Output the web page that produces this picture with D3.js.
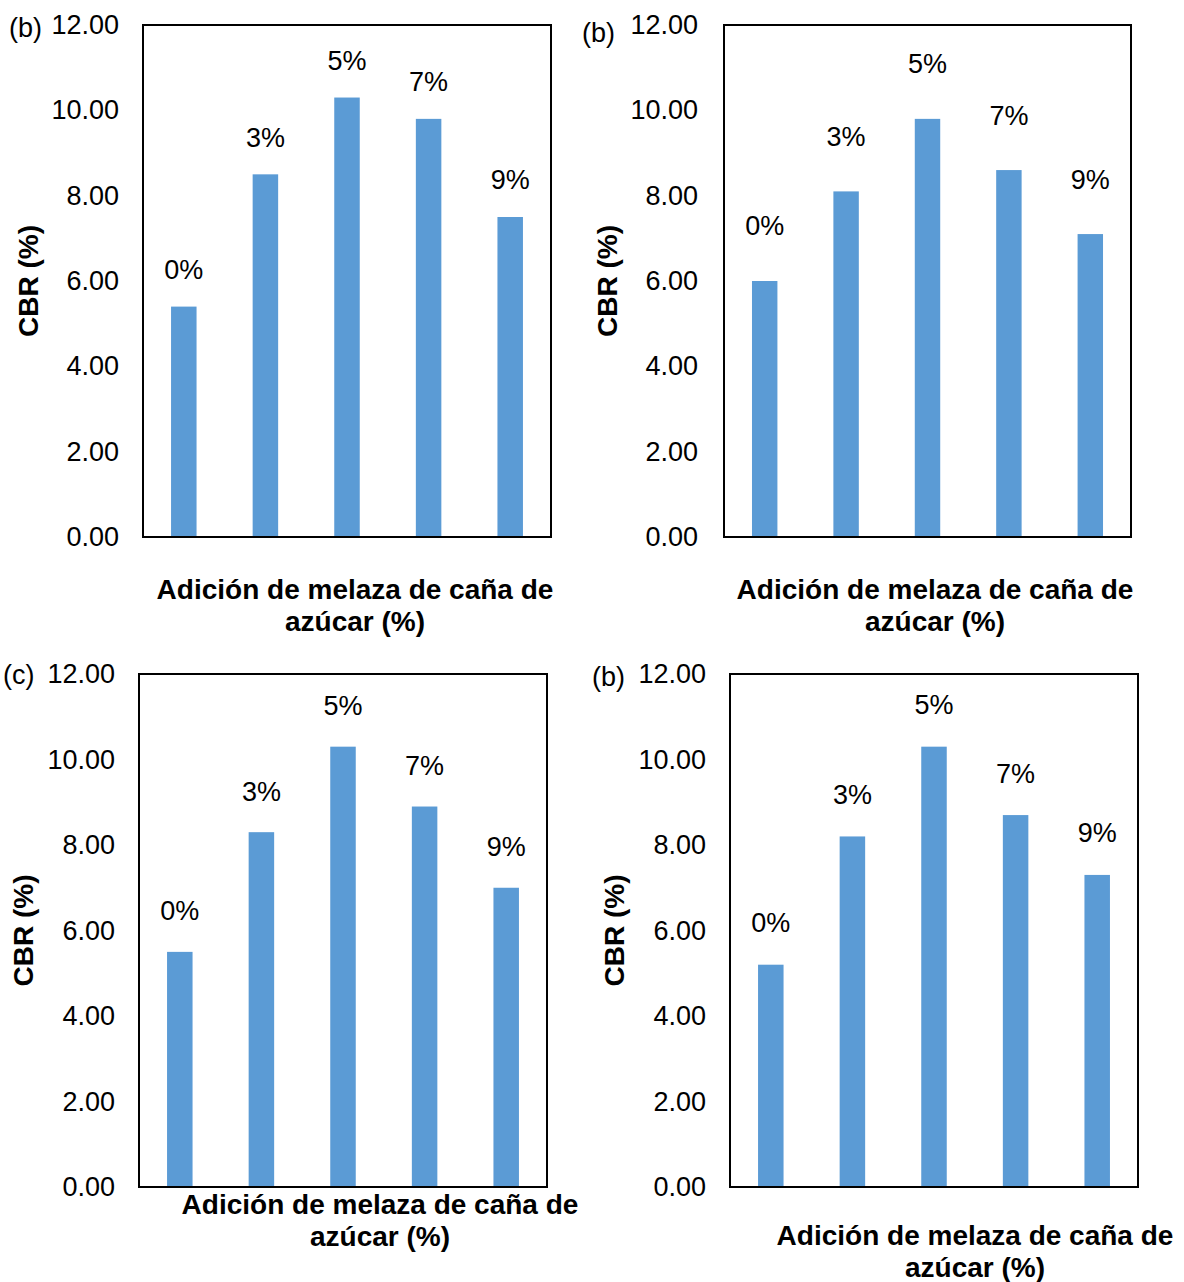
<!DOCTYPE html>
<html>
<head>
<meta charset="utf-8">
<script src="https://cdn.jsdelivr.net/npm/d3@7"></script>
<style>
  html, body { margin: 0; padding: 0; background: #fff; }
  svg { display: block; }
  text { font-family: "Liberation Sans", Arial, Helvetica, sans-serif; fill: #000; }
</style>
</head>
<body>
<svg id="chart" width="1184" height="1282"></svg>
<script>
// Molasses dosage categories shared by all four panels
const categories = ["0%", "3%", "5%", "7%", "9%"];

// CBR (%) for each panel
const cbrPanel1 = [5.4, 8.5, 10.3, 9.8, 7.5];
const cbrPanel2 = [6.0, 8.1, 9.8, 8.6, 7.1];
const cbrPanel3 = [5.5, 8.3, 10.3, 8.9, 7.0];
const cbrPanel4 = [5.2, 8.2, 10.3, 8.7, 7.3];

// Panel tags
const panelTags = ["(b)", "(b)", "(c)", "(b)"];

// Y axis ticks
const yTicks = [0, 2, 4, 6, 8, 10, 12];

const yTitle = "CBR (%)";
const xTitleLines = ["Adición de melaza de caña de", "azúcar (%)"];

const series = [cbrPanel1, cbrPanel2, cbrPanel3, cbrPanel4];

// Layout of each panel on the page
const layout = [
  { left: 143, top: 25,  w: 408, h: 512, tickGap: 24, tagX: 9,   tagDy: 3, yTitleX: 28,  xTitleX: 355, xTitleY: 589,  labelGap: 37 },
  { left: 724, top: 25,  w: 407, h: 512, tickGap: 26, tagX: 582, tagDy: 8, yTitleX: 607, xTitleX: 935, xTitleY: 589,  labelGap: 55 },
  { left: 139, top: 674, w: 408, h: 513, tickGap: 24, tagX: 3,   tagDy: 1, yTitleX: 23,  xTitleX: 380, xTitleY: 1204, labelGap: 41 },
  { left: 730, top: 674, w: 408, h: 513, tickGap: 24, tagX: 592, tagDy: 3, yTitleX: 614, xTitleX: 975, xTitleY: 1235, labelGap: 42 }
];

const barColor = "#5b9bd5";
const fontSize = 27;
const titleSize = 28;

const svg = d3.select("#chart");

series.forEach((values, i) => {
  const L = layout[i];
  const g = svg.append("g");

  const x = d3.scaleBand()
    .domain(categories)
    .range([L.left, L.left + L.w])
    .paddingInner(0.6875)
    .paddingOuter(0.34375);

  const y = d3.scaleLinear()
    .domain([0, 12])
    .range([L.top + L.h, L.top]);

  // bars
  g.selectAll("rect.bar")
    .data(values)
    .join("rect")
    .attr("class", "bar")
    .attr("x", (d, j) => x(categories[j]))
    .attr("width", x.bandwidth())
    .attr("y", d => y(d))
    .attr("height", d => y(0) - y(d))
    .attr("fill", barColor);

  // category labels above bars
  g.selectAll("text.lbl")
    .data(values)
    .join("text")
    .attr("class", "lbl")
    .attr("x", (d, j) => x(categories[j]) + x.bandwidth() / 2)
    .attr("y", d => y(d) - L.labelGap)
    .attr("dy", "0.35em")
    .attr("text-anchor", "middle")
    .style("font-size", fontSize + "px")
    .text((d, j) => categories[j]);

  // y axis with tick labels only
  const yAxis = d3.axisLeft(y)
    .tickValues(yTicks)
    .tickSize(0)
    .tickPadding(L.tickGap)
    .tickFormat(d3.format(".2f"));
  const ya = g.append("g")
    .attr("transform", `translate(${L.left},0)`)
    .call(yAxis);
  ya.select(".domain").remove();
  ya.selectAll("text")
    .style("font-size", fontSize + "px")
    .style("font-family", '"Liberation Sans", Arial, sans-serif')
    .attr("fill", "#000");

  // plot frame
  g.append("rect")
    .attr("x", L.left)
    .attr("y", L.top)
    .attr("width", L.w)
    .attr("height", L.h)
    .attr("fill", "none")
    .attr("stroke", "#000")
    .attr("stroke-width", 2);

  // panel tag
  g.append("text")
    .attr("x", L.tagX)
    .attr("y", L.top + L.tagDy)
    .attr("dy", "0.35em")
    .style("font-size", fontSize + "px")
    .text(panelTags[i]);

  // y title
  g.append("text")
    .attr("transform", `translate(${L.yTitleX},${L.top + L.h / 2}) rotate(-90)`)
    .attr("dy", "0.35em")
    .attr("text-anchor", "middle")
    .style("font-size", titleSize + "px")
    .style("font-weight", "bold")
    .text(yTitle);

  // x title (two lines)
  xTitleLines.forEach((t, k) => {
    g.append("text")
      .attr("x", L.xTitleX)
      .attr("y", L.xTitleY + k * 32)
      .attr("dy", "0.35em")
      .attr("text-anchor", "middle")
      .style("font-size", titleSize + "px")
      .style("font-weight", "bold")
      .text(t);
  });
});
</script>
</body>
</html>
